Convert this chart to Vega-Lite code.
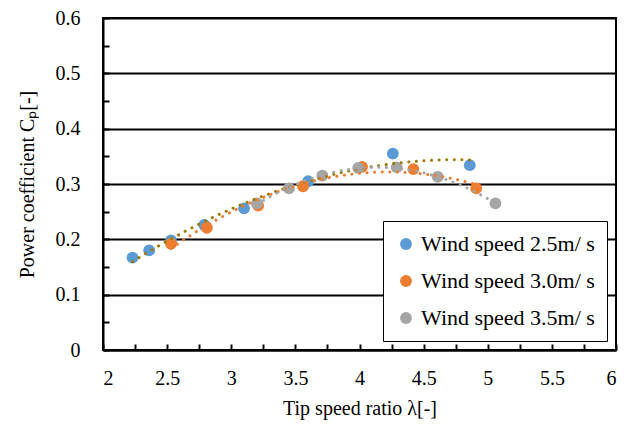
{
  "$schema": "https://vega.github.io/schema/vega-lite/v6.json",
  "autosize": "none",
  "width": 513,
  "height": 332,
  "padding": {"left": 103, "top": 18, "right": 11, "bottom": 74},
  "background": "white",
  "config": {
    "view": {"stroke": "black", "strokeWidth": 2},
    "font": "Liberation Serif",
    "axis": {"labelFont": "Liberation Serif", "titleFont": "Liberation Serif", "labelColor": "black", "titleColor": "black", "labelFontSize": 20, "titleFontSize": 20, "titleFontWeight": "normal", "domainColor": "black", "domainWidth": 2, "tickColor": "black", "tickWidth": 2},
    "legend": {"labelFont": "Liberation Serif"}
  },
  "data": {"values": [
    {"series": "Wind speed 2.5m/ s", "x": 2.23, "y": 0.167},
    {"series": "Wind speed 2.5m/ s", "x": 2.36, "y": 0.180},
    {"series": "Wind speed 2.5m/ s", "x": 2.53, "y": 0.198},
    {"series": "Wind speed 2.5m/ s", "x": 2.79, "y": 0.226},
    {"series": "Wind speed 2.5m/ s", "x": 3.10, "y": 0.256},
    {"series": "Wind speed 2.5m/ s", "x": 3.60, "y": 0.305},
    {"series": "Wind speed 2.5m/ s", "x": 4.26, "y": 0.355},
    {"series": "Wind speed 2.5m/ s", "x": 4.86, "y": 0.334},
    {"series": "Wind speed 3.0m/ s", "x": 2.53, "y": 0.192},
    {"series": "Wind speed 3.0m/ s", "x": 2.81, "y": 0.221},
    {"series": "Wind speed 3.0m/ s", "x": 3.21, "y": 0.261},
    {"series": "Wind speed 3.0m/ s", "x": 3.56, "y": 0.296},
    {"series": "Wind speed 3.0m/ s", "x": 4.02, "y": 0.331},
    {"series": "Wind speed 3.0m/ s", "x": 4.42, "y": 0.327},
    {"series": "Wind speed 3.0m/ s", "x": 4.91, "y": 0.292},
    {"series": "Wind speed 3.5m/ s", "x": 3.20, "y": 0.265},
    {"series": "Wind speed 3.5m/ s", "x": 3.45, "y": 0.292},
    {"series": "Wind speed 3.5m/ s", "x": 3.71, "y": 0.315},
    {"series": "Wind speed 3.5m/ s", "x": 3.99, "y": 0.329},
    {"series": "Wind speed 3.5m/ s", "x": 4.29, "y": 0.330},
    {"series": "Wind speed 3.5m/ s", "x": 4.61, "y": 0.313},
    {"series": "Wind speed 3.5m/ s", "x": 5.06, "y": 0.265}
  ]},
  "encoding": {
    "x": {"field": "x", "type": "quantitative", "scale": {"domain": [2, 6], "nice": false, "zero": false},
      "axis": {"values": [2,2.25,2.5,2.75,3,3.25,3.5,3.75,4,4.25,4.5,4.75,5,5.25,5.5,5.75,6], "labelExpr": "round(datum.value*100) % 50 == 0 ? format(datum.value, '~g') : ''", "grid": false, "tickSize": -6, "labelPadding": 24, "title": "Tip speed ratio  λ[-]", "titlePadding": 10}},
    "y": {"field": "y", "type": "quantitative", "scale": {"domain": [0, 0.6], "nice": false},
      "axis": {"values": [0,0.05,0.1,0.15,0.2,0.25,0.3,0.35,0.4,0.45,0.5,0.55,0.6], "labelExpr": "round(datum.value*100) % 10 == 0 ? format(datum.value, '~g') : ''", "grid": true, "gridColor": "black", "gridWidth": 2, "gridOpacity": {"condition": {"test": "round(datum.value*100) % 10 == 0", "value": 1}, "value": 0}, "tickSize": -6, "labelPadding": 29, "title": "Power coefficient  Cₚ[-]", "titlePadding": 18}}
  },
  "layer": [
    {
      "mark": {"type": "point", "filled": true, "opacity": 1, "size": 140, "shape": "circle"},
      "encoding": {
        "color": {"field": "series", "type": "nominal", "scale": {"range": ["#5B9BD5", "#ED7D31", "#A5A5A5"]},
          "legend": {"title": null, "orient": "bottom-right", "offset": 9, "strokeColor": "black", "fillColor": "white", "padding": 12, "labelFontSize": 22, "labelColor": "black", "symbolSize": 140, "symbolType": "circle", "rowPadding": 15, "labelOffset": 4, "labelLimit": 400}}
      }
    },
    {
      "transform": [{"regression": "y", "on": "x", "groupby": ["series"], "method": "poly", "order": 2}],
      "mark": {"type": "line", "strokeWidth": 3, "strokeDash": [0.1, 7.5], "strokeCap": "round"},
      "encoding": {
        "color": {"field": "series", "type": "nominal", "scale": {"range": ["#9C7A00", "#ED7D31", "#A5A5A5"]}, "legend": null}
      }
    }
  ],
  "resolve": {"scale": {"color": "independent"}}
}
